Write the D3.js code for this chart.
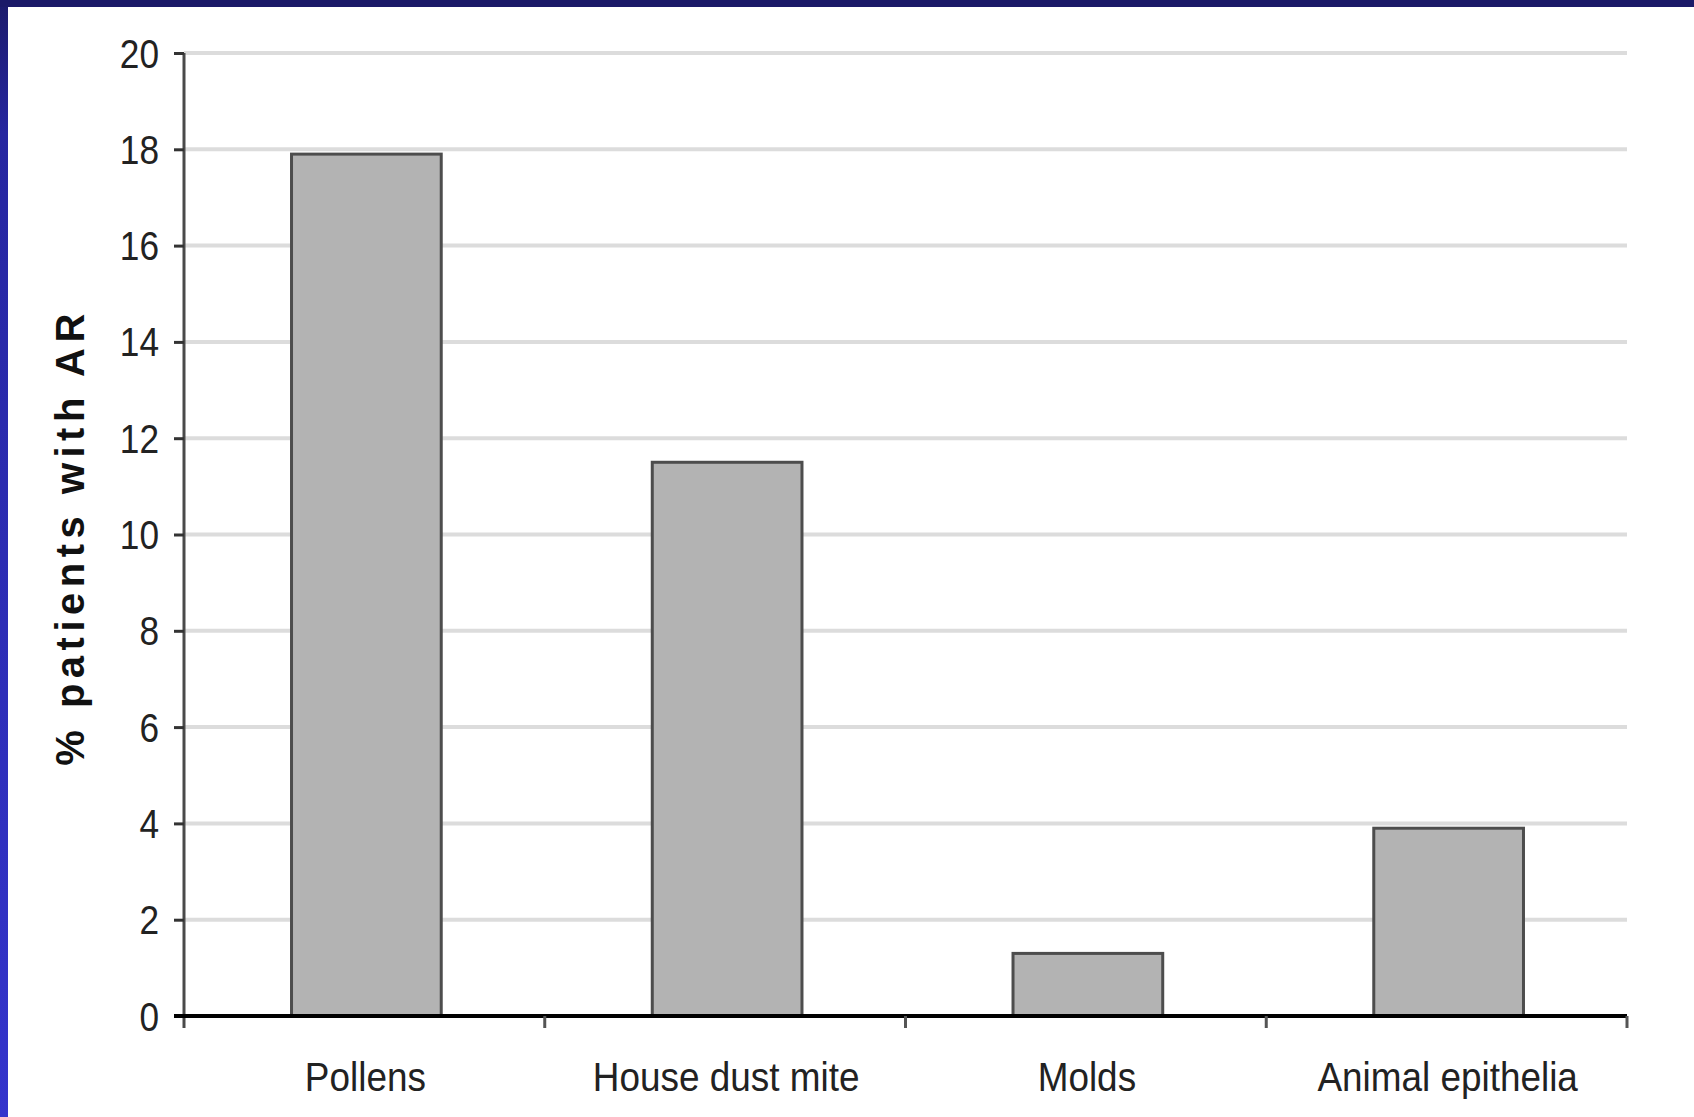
<!DOCTYPE html>
<html>
<head>
<meta charset="utf-8">
<script src="https://cdn.jsdelivr.net/npm/d3@7"></script>
<style>
  html, body { margin: 0; padding: 0; background: #ffffff; }
  svg { display: block; }
</style>
</head>
<body>
<script>
// ---- data ----
const categories = ["Pollens", "House dust mite", "Molds", "Animal epithelia"];
const values = [17.9, 11.5, 1.3, 3.9];
const yTicks = [0, 2, 4, 6, 8, 10, 12, 14, 16, 18, 20];
const yTitle = "% patients with AR";

// ---- layout ----
const W = 1694, H = 1117;
const x0 = 184, x1 = 1627, yTop = 53, yBase = 1016;

const svg = d3.select("body").append("svg").attr("width", W).attr("height", H);

const defs = svg.append("defs");
const grad = defs.append("linearGradient").attr("id", "leftbar")
  .attr("x1", 0).attr("y1", 0).attr("x2", 0).attr("y2", 1);
grad.append("stop").attr("offset", "0%").attr("stop-color", "#1c1b6b");
grad.append("stop").attr("offset", "12%").attr("stop-color", "#2626a0");
grad.append("stop").attr("offset", "100%").attr("stop-color", "#3434cc");

svg.append("rect").attr("width", W).attr("height", H).attr("fill", "#ffffff");
svg.append("rect").attr("x", 0).attr("y", 0).attr("width", 8).attr("height", H).attr("fill", "url(#leftbar)");
svg.append("rect").attr("x", 0).attr("y", 0).attr("width", W).attr("height", 7).attr("fill", "#1b1a68");

const x = d3.scaleBand().domain(categories).range([x0, x1]).paddingInner(0.585).paddingOuter(0.2925);
const y = d3.scaleLinear().domain([0, 20]).range([yBase, yTop]);

// gridlines
svg.append("g").selectAll("line").data(yTicks.filter(d => d > 0)).join("line")
  .attr("x1", x0).attr("x2", x1)
  .attr("y1", d => y(d)).attr("y2", d => y(d))
  .attr("stroke", "#dcdcdc").attr("stroke-width", 4);

// bars
svg.append("g").selectAll("rect").data(categories).join("rect")
  .attr("x", d => x(d) + 2)
  .attr("width", x.bandwidth())
  .attr("y", (d, i) => y(values[i]))
  .attr("height", (d, i) => yBase - y(values[i]))
  .attr("fill", "#b3b3b3")
  .attr("stroke", "#4d4d4d")
  .attr("stroke-width", 3);

// y axis
const yAxis = d3.axisLeft(y).tickValues(yTicks).tickSize(10).tickPadding(13).tickFormat(d3.format("d"));
const gy = svg.append("g").attr("transform", `translate(${x0},0)`).call(yAxis);
gy.select(".domain").attr("stroke", "#4a4a4a").attr("stroke-width", 3)
  .attr("d", `M0,${yTop}V${yBase + 12}`);
gy.selectAll(".tick line").attr("stroke", "#333").attr("stroke-width", 3);
gy.selectAll(".tick text")
  .attr("x", 0).attr("dy", "0.35em")
  .attr("transform", "translate(-25,0) scale(0.88,1)")
  .attr("font-family", "'Liberation Sans', Arial, sans-serif")
  .attr("font-size", 40).attr("fill", "#222");

// x axis
const boundaries = d3.range(categories.length + 1).map(i => x0 + i * x.step());
const gx = svg.append("g");
gx.append("line").attr("x1", x0 - 10).attr("x2", x1).attr("y1", yBase).attr("y2", yBase)
  .attr("stroke", "#000").attr("stroke-width", 4);
gx.selectAll("line.tk").data(boundaries.slice(1)).join("line").attr("class", "tk")
  .attr("x1", d => d).attr("x2", d => d).attr("y1", yBase).attr("y2", yBase + 12)
  .attr("stroke", "#555").attr("stroke-width", 3);
gx.selectAll("text").data(categories).join("text")
  .attr("transform", d => `translate(${x(d) + x.bandwidth() / 2 + 1},${yBase + 75}) scale(0.9,1)`)
  .attr("text-anchor", "middle")
  .attr("font-family", "'Liberation Sans', Arial, sans-serif")
  .attr("font-size", 41).attr("fill", "#222")
  .text(d => d);

// y title
svg.append("text")
  .attr("transform", "translate(84,537) rotate(-90)")
  .attr("text-anchor", "middle")
  .attr("font-family", "'Liberation Sans', Arial, sans-serif")
  .attr("font-weight", "bold")
  .attr("font-size", 40)
  .attr("letter-spacing", "5.5px")
  .attr("fill", "#111")
  .text(yTitle);
</script>
</body>
</html>
